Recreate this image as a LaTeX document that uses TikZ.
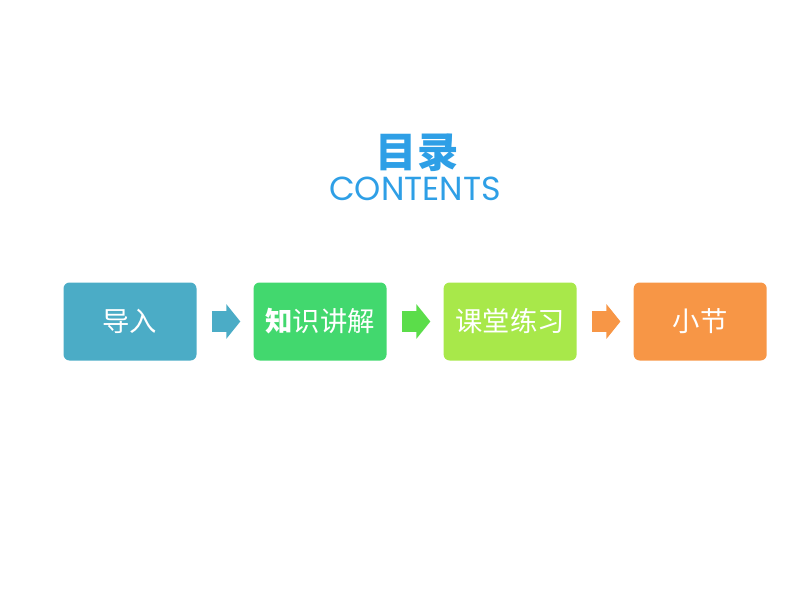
\documentclass[tikz,border=0pt]{standalone}
\usepackage{fontspec}
\setmainfont{Poppins}
\newfontfamily\cjk{Noto Sans CJK SC}
\usetikzlibrary{positioning,arrows.meta}

\definecolor{titleblue}{HTML}{2E9FE6}
\definecolor{tealbox}{HTML}{4BACC6}
\definecolor{greenbox}{HTML}{42D86E}
\definecolor{limebox}{HTML}{A8E84A}
\definecolor{greenarrow}{HTML}{5BDD4A}
\definecolor{orangebox}{HTML}{F79646}

\begin{document}
\begin{tikzpicture}[x=0.75pt,y=-0.75pt,
        stepbox/.style={rounded corners=4.5pt,minimum width=99.75pt,minimum height=58.5pt,
          inner sep=0pt,text=white,font=\cjk\fontsize{20.5}{24}\selectfont},
        flow/.style={line width=15.75pt,-{Triangle[length=10.5pt,width=25.5pt]},
          shorten <=11.25pt,shorten >=9.75pt}]
      \useasboundingbox (0,0) rectangle (794,596);
      \node[text=titleblue,font=\cjk\bfseries\fontsize{31}{34}\selectfont] (title) at (417,153) {目录};
      \node[text=titleblue,font=\fontsize{25}{28}\selectfont,inner sep=0pt] (contents) at (415,189) {CONTENTS};

      \node[stepbox,fill=tealbox] (intro) at (130,321.5) {导入};
      \node[stepbox,fill=greenbox,right=42.4pt of intro] (lecture) {\textbf{知}识讲解};
      \node[stepbox,fill=limebox,right=42.4pt of lecture] (practice) {课堂练习};
      \node[stepbox,fill=orangebox,right=42.4pt of practice] (summary) {小节};

      \draw[flow,tealbox] (intro) -- (lecture);
      \draw[flow,greenarrow] (lecture) -- (practice);
      \draw[flow,orangebox] (practice) -- (summary);
    \end{tikzpicture}
\end{document}
